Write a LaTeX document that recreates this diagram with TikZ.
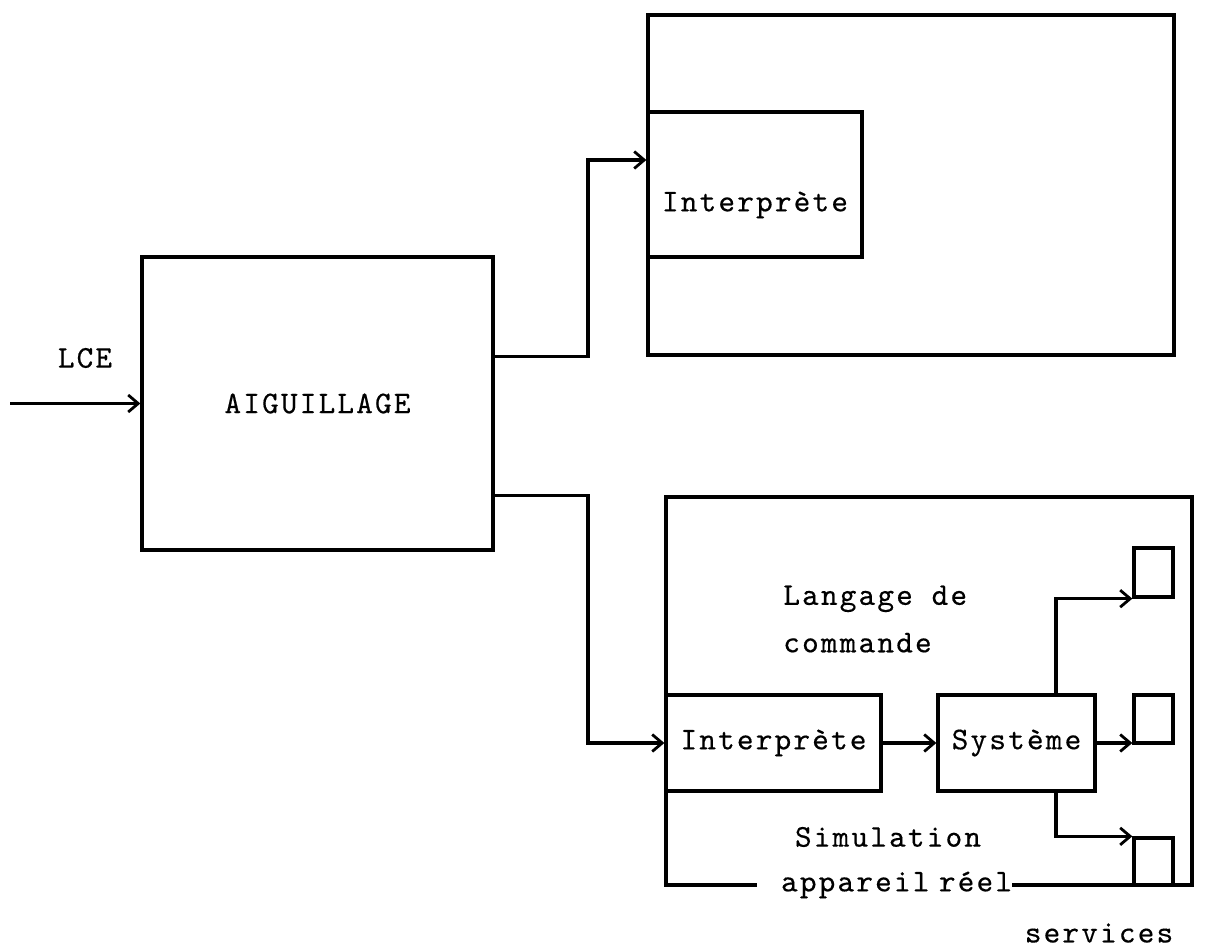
\documentclass[tikz,border=0pt]{standalone}
\usepackage{fontspec}
\setmonofont{lmmono10-regular.otf}[LetterSpace=7,FakeBold=0.4]
\usepackage{tikz}
\usetikzlibrary{arrows.meta,positioning,calc}

\begin{document}
\begin{tikzpicture}[x=0.02cm,y=-0.02cm,
				every node/.style={font=\ttfamily\fontsize{18}{27}\selectfont},
				box/.style={draw=black,line width=1.9pt,inner sep=0pt},
				serv/.style={box,minimum width=0.78cm},
				lab/.style={inner sep=0pt,align=left},
				flow/.style={-{Straight Barb[length=2mm,width=3.4mm,line width=1.6pt]},line width=1.9pt}]

				\useasboundingbox (0,0) rectangle (1209,952);

				\node[box,minimum width=7.02cm,minimum height=5.86cm] (aig) at (317.5,403.5) {AIGUILLAGE};
				\node[lab] (lce) at (85,358) {LCE};
				\coordinate (lce0) at (10,403.5);

				\node[box,minimum width=10.52cm,minimum height=6.8cm] (top) at (911,185) {};
				\node[box,minimum width=4.28cm,minimum height=2.9cm] (in1) at (755,184.5) {};
				\node[lab] (in1txt) at (755,205) {Interprète};

				\node[box,minimum width=10.52cm,minimum height=7.76cm] (bot) at (929,691) {};
				\node[box,minimum width=4.3cm,minimum height=1.92cm] (in2) at (773.5,743) {Interprète};
				\node[box,minimum width=3.14cm,minimum height=1.92cm] (sys) at (1016.5,743) {Système};

				\node[serv,minimum height=0.98cm] (sv1) at (1153.5,572.5) {};
				\node[serv,minimum height=0.96cm] (sv2) at (1153.5,719) {};
				\node[serv,minimum height=0.94cm] (sv3) at (1153.5,861.5) {};

				\node[lab,anchor=west] (lang) at (783,619) {Langage de\\commande};
				\node[lab] (sim) at (888,837) {Simulation};
				\node[lab,fill=white,text width=5.1cm,align=right] (reel) at (884.5,885) {\mbox{appareil\hspace{0.3em}réel}};
				\node[lab] (serv) at (1099,933) {services};

				\coordinate (sw) at (588,0);
				\coordinate (br) at (1056,0);
				\coordinate (in1in) at ([yshift=0.49cm]in1.west);

				\draw[flow] (lce0) -- (aig.west);
				\draw[flow] (aig.east |- top.south) -| (sw |- in1in) -- (in1in);
				\draw[flow] (aig.east |- bot.north) -| (sw |- in2.west) -- (in2.west);
				\draw[flow] (in2) -- (sys);
				\draw[flow] (sys.north -| br) |- (sv1.south west);
				\draw[flow] (sys.east) -- (sys.east -| sv2.west);
				\draw[flow] (sys.south -| br) |- (sv3.north west);
			\end{tikzpicture}
\end{document}
